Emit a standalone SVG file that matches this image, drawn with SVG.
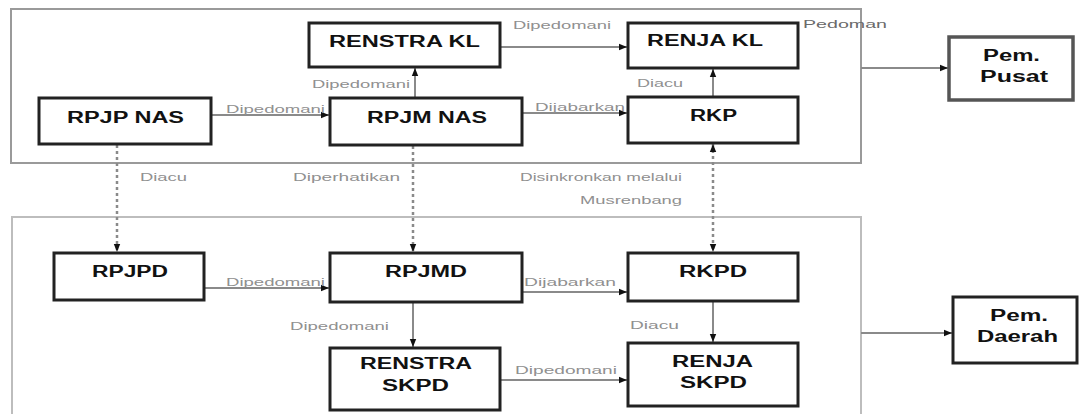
<svg xmlns="http://www.w3.org/2000/svg" width="1079" height="414" viewBox="0 0 1079 414">
<defs>
<style>
.box{fill:#fff;stroke:#222;stroke-width:3}
.pem{fill:#fff;stroke:#555;stroke-width:3.5}
.cont{fill:none;stroke:#9a9a9a;stroke-width:2}
.cont2{fill:none;stroke:#bdbdbd;stroke-width:2}
.nt{font-family:"Liberation Sans",Arial,sans-serif;font-weight:bold;font-size:16px;fill:#111}
.lb{font-family:"Liberation Sans",Arial,sans-serif;font-size:11px;fill:#909090}
.ln{fill:none;stroke:#8a8a8a;stroke-width:2}
.dash{fill:none;stroke:#8a8a8a;stroke-width:2.5;stroke-dasharray:3 3}
</style>
<marker id="arr" viewBox="0 0 10 10" refX="10" refY="5" markerWidth="8" markerHeight="8" markerUnits="userSpaceOnUse" orient="auto-start-reverse">
<path d="M0,1 L10,5 L0,9 z" fill="#111"/>
</marker>
</defs>
<rect width="1079" height="414" fill="#fff"/>
<g id="containers">
<rect class="cont" x="11" y="9" width="850" height="154"/>
<path class="cont2" d="M12 414 V217 H861 V414"/>
</g>
<g id="connectors">
<path class="ln" d="M500 47 H627" marker-end="url(#arr)"/>
<path class="ln" d="M415 98 V68" marker-end="url(#arr)"/>
<path class="ln" d="M211 115 H329" marker-end="url(#arr)"/>
<path class="ln" d="M522 113 H627" marker-end="url(#arr)"/>
<path class="ln" d="M713 97 V69" marker-end="url(#arr)"/>
<path class="ln" d="M861 68 H948" marker-end="url(#arr)"/>
<path class="dash" d="M117 145 V252" marker-end="url(#arr)"/>
<path class="dash" d="M413 146 V252" marker-end="url(#arr)"/>
<path class="dash" d="M713 144 V252" marker-start="url(#arr)" marker-end="url(#arr)"/>
<path class="ln" d="M204 288 H329" marker-end="url(#arr)"/>
<path class="ln" d="M522 292 H627" marker-end="url(#arr)"/>
<path class="ln" d="M413 302 V347" marker-end="url(#arr)"/>
<path class="ln" d="M713 301 V342" marker-end="url(#arr)"/>
<path class="ln" d="M500 380 H627" marker-end="url(#arr)"/>
<path class="ln" d="M861 333 H952" marker-end="url(#arr)"/>
</g>
<g id="labels">
<text class="lb" x="513" y="29" textLength="98" lengthAdjust="spacingAndGlyphs">Dipedomani</text>
<text class="lb" x="803" y="28" textLength="84" lengthAdjust="spacingAndGlyphs" style="fill:#6a6a6a">Pedoman</text>
<text class="lb" x="312" y="88" textLength="98" lengthAdjust="spacingAndGlyphs">Dipedomani</text>
<text class="lb" x="226" y="113" textLength="99" lengthAdjust="spacingAndGlyphs">Dipedomani</text>
<text class="lb" x="535" y="111" textLength="90" lengthAdjust="spacingAndGlyphs">Dijabarkan</text>
<text class="lb" x="637" y="87" textLength="46" lengthAdjust="spacingAndGlyphs">Diacu</text>
<text class="lb" x="140" y="181" textLength="47" lengthAdjust="spacingAndGlyphs">Diacu</text>
<text class="lb" x="293" y="181" textLength="107" lengthAdjust="spacingAndGlyphs">Diperhatikan</text>
<text class="lb" x="520" y="181" textLength="162" lengthAdjust="spacingAndGlyphs">Disinkronkan melalui</text>
<text class="lb" x="580" y="204" textLength="102" lengthAdjust="spacingAndGlyphs">Musrenbang</text>
<text class="lb" x="226" y="286" textLength="99" lengthAdjust="spacingAndGlyphs">Dipedomani</text>
<text class="lb" x="524" y="286" textLength="92" lengthAdjust="spacingAndGlyphs">Dijabarkan</text>
<text class="lb" x="290" y="330" textLength="99" lengthAdjust="spacingAndGlyphs">Dipedomani</text>
<text class="lb" x="630" y="329" textLength="49" lengthAdjust="spacingAndGlyphs">Diacu</text>
<text class="lb" x="515" y="374" textLength="102" lengthAdjust="spacingAndGlyphs">Dipedomani</text>
</g>
<g id="renstra-kl">
<rect class="box" x="309" y="23" width="191" height="44"/>
<text class="nt" x="329" y="47" textLength="151" lengthAdjust="spacingAndGlyphs">RENSTRA KL</text>
</g>
<g id="renja-kl">
<rect class="box" x="628" y="23" width="170" height="45"/>
<text class="nt" x="647" y="46" textLength="116" lengthAdjust="spacingAndGlyphs">RENJA KL</text>
</g>
<g id="rpjp-nas">
<rect class="box" x="39" y="98" width="172" height="46"/>
<text class="nt" x="67" y="123" textLength="117" lengthAdjust="spacingAndGlyphs">RPJP NAS</text>
</g>
<g id="rpjm-nas">
<rect class="box" x="330" y="98" width="192" height="47"/>
<text class="nt" x="367" y="123" textLength="120" lengthAdjust="spacingAndGlyphs">RPJM NAS</text>
</g>
<g id="rkp">
<rect class="box" x="628" y="97" width="170" height="46"/>
<text class="nt" x="690" y="121" textLength="47" lengthAdjust="spacingAndGlyphs">RKP</text>
</g>
<g id="pem-pusat">
<rect class="pem" x="949" y="37" width="124" height="63"/>
<text class="nt" x="983" y="61" textLength="57" lengthAdjust="spacingAndGlyphs">Pem.</text>
<text class="nt" x="980" y="82" textLength="68" lengthAdjust="spacingAndGlyphs">Pusat</text>
</g>
<g id="rpjpd">
<rect class="box" x="54" y="253" width="150" height="47"/>
<text class="nt" x="92" y="277" textLength="76" lengthAdjust="spacingAndGlyphs">RPJPD</text>
</g>
<g id="rpjmd">
<rect class="box" x="330" y="253" width="192" height="49"/>
<text class="nt" x="385" y="277" textLength="82" lengthAdjust="spacingAndGlyphs">RPJMD</text>
</g>
<g id="rkpd">
<rect class="box" x="628" y="253" width="170" height="48"/>
<text class="nt" x="679" y="277" textLength="68" lengthAdjust="spacingAndGlyphs">RKPD</text>
</g>
<g id="renstra-skpd">
<rect class="box" x="330" y="348" width="170" height="62"/>
<text class="nt" x="360" y="369" textLength="112" lengthAdjust="spacingAndGlyphs">RENSTRA</text>
<text class="nt" x="382" y="391" textLength="67" lengthAdjust="spacingAndGlyphs">SKPD</text>
</g>
<g id="renja-skpd">
<rect class="box" x="628" y="343" width="170" height="63"/>
<text class="nt" x="672" y="367" textLength="81" lengthAdjust="spacingAndGlyphs">RENJA</text>
<text class="nt" x="680" y="388" textLength="67" lengthAdjust="spacingAndGlyphs">SKPD</text>
</g>
<g id="pem-daerah">
<rect class="box" x="953" y="297" width="124" height="66"/>
<text class="nt" x="990" y="321" textLength="58" lengthAdjust="spacingAndGlyphs">Pem.</text>
<text class="nt" x="977" y="342" textLength="81" lengthAdjust="spacingAndGlyphs">Daerah</text>
</g>
</svg>
